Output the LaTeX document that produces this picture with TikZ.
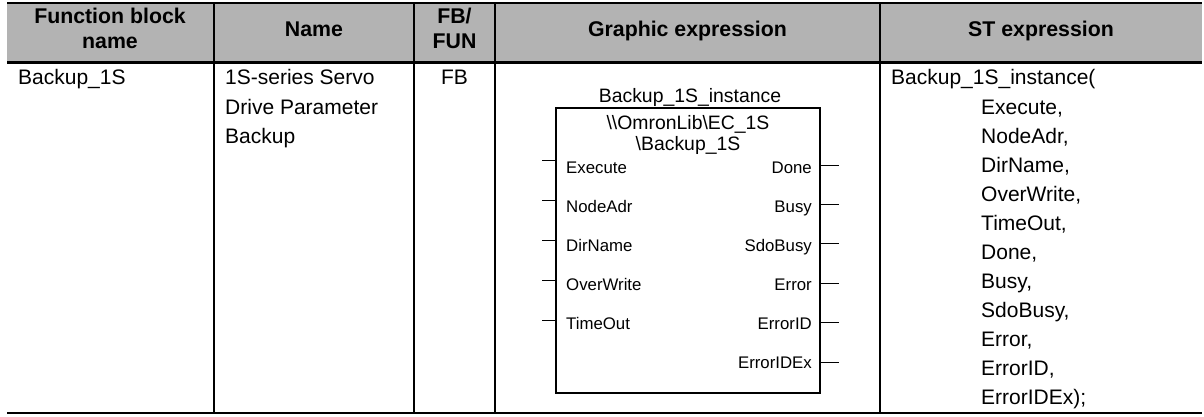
\documentclass[tikz,border=0pt]{standalone}
\usepackage{fontspec}
\setmainfont{Liberation Sans}
\definecolor{hdgray}{RGB}{179,179,179}
\begin{document}
\begin{tikzpicture}[x=1pt,y=-1pt,
  rule/.style={line width=2.6pt},
  vline/.style={line width=1.3pt},
  hd/.style={font=\fontsize{21.3}{24}\selectfont\bfseries, anchor=base, inner sep=0pt},
  tx/.style={font=\fontsize{21}{24}\selectfont, anchor=base west, inner sep=0pt},
  txc/.style={font=\fontsize{21}{24}\selectfont, anchor=base, inner sep=0pt},
  ttl/.style={font=\fontsize{19.4}{22}\selectfont, anchor=base, inner sep=0pt},
  pinl/.style={font=\fontsize{16.8}{18}\selectfont, anchor=base west, inner sep=0pt},
  pinr/.style={font=\fontsize{16.8}{18}\selectfont, anchor=base east, inner sep=0pt},
  fbbox/.style={draw, line width=1.2pt, minimum width=264pt, minimum height=285pt, inner sep=0pt},
  stub/.style={line width=1pt}
  ]
\useasboundingbox (0,0) rectangle (1204,417);
% header background and rules
\fill[hdgray] (7,3) rectangle (1202,62.5);
\draw[rule] (7,3) -- (1202,3);
\draw[rule] (7,62.5) -- (1202,62.5);
\draw[rule] (7,413) -- (1202,413);
\foreach \x in {214,414,495,880} \draw[vline] (\x,3) -- (\x,413);
% header texts
\node[hd] (h1a) at (110,24) {Function block};
\node[hd] (h1b) at (110,49) {name};
\node[hd] (h2) at (314,37) {Name};
\node[hd] (h3a) at (454.5,24) {FB/};
\node[hd] (h3b) at (454.5,49) {FUN};
\node[hd] (h4) at (687.5,37) {Graphic expression};
\node[hd] (h5) at (1041,37) {ST expression};
% body row
\node[tx] (c1) at (18,85) {Backup\_1S};
\node[tx] (n1) at (225,85) {1S-series Servo};
\node[tx] (n2) at (225,114) {Drive Parameter};
\node[tx] (n3) at (225,143) {Backup};
\node[txc] (fb1) at (454.5,85) {FB};
% graphic expression
\node[ttl] (inst) at (690,103) {Backup\_1S\_instance};
\node[fbbox] (fb) at (688,250.5) {};
\node[ttl] (lib1) at (688,129) {\textbackslash\textbackslash OmronLib\textbackslash EC\_1S};
\node[ttl] (lib2) at (688,150) {\textbackslash Backup\_1S};
\foreach \t [count=\i from 0] in {Execute,NodeAdr,DirName,OverWrite,TimeOut}{
  \node[pinl] (in\i) at (566,173+39*\i) {\t};
  \coordinate (ins\i) at (542,160+40.2*\i);
  \draw[stub] (ins\i) -- (ins\i -| fb.west);
}
\foreach \t [count=\i from 0] in {Done,Busy,SdoBusy,Error,ErrorID,ErrorIDEx}{
  \node[pinr] (out\i) at (812,173+39*\i) {\t};
  \coordinate (outs\i) at (839,165+39.4*\i);
  \draw[stub] (outs\i -| fb.east) -- (outs\i);
}
% ST expression
\node[tx] (st0) at (891,85) {Backup\_1S\_instance(};
\foreach \t [count=\i] in {{Execute,},{NodeAdr,},{DirName,},{OverWrite,},{TimeOut,},{Done,},{Busy,},{SdoBusy,},{Error,},{ErrorID,},{ErrorIDEx);}}{
  \node[tx] (st\i) at (981,85+29*\i) {\t};
}
\end{tikzpicture}
\end{document}
